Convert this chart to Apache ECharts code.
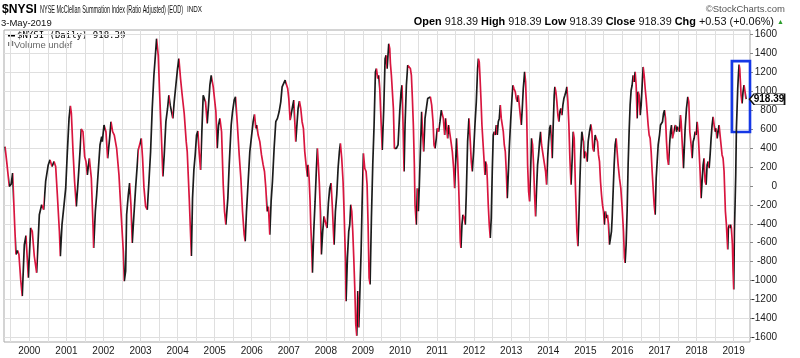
<!DOCTYPE html>
<html><head><meta charset="utf-8">
<script src="https://cdn.jsdelivr.net/npm/echarts@6/dist/echarts.min.js"></script>
<style>html,body{margin:0;padding:0;background:#fff}#c{width:800px;height:358px}</style>
</head><body><div id="c"></div>
<script>
// ---- data (dates as decimal years, values of $NYSI) ----
const dates = [
1999.345,1999.39,1999.46,1999.51,1999.55,1999.605,1999.64,1999.685,1999.72,1999.767,1999.81,1999.866,1999.91,1999.974,
2000.037,2000.08,2000.135,2000.198,2000.27,2000.333,2000.387,2000.44,2000.51,2000.558,2000.612,2000.666,2000.71,2000.755,2000.81,2000.836,2000.88,2000.935,2000.98,
2001.025,2001.07,2001.106,2001.133,2001.178,2001.22,2001.267,2001.32,2001.366,2001.4,2001.447,2001.492,2001.528,2001.564,2001.618,2001.672,2001.717,2001.735,2001.78,2001.816,2001.906,2001.951,2001.969,
2002.014,2002.04,2002.067,2002.112,2002.13,2002.166,2002.202,2002.247,2002.292,2002.355,2002.418,2002.472,2002.535,2002.562,2002.598,2002.625,2002.67,2002.705,2002.741,2002.777,2002.822,2002.867,2002.912,2002.939,2002.975,
2003.02,2003.056,2003.092,2003.137,2003.182,2003.227,2003.272,2003.316,2003.361,2003.388,2003.433,2003.478,2003.514,2003.559,2003.604,2003.64,2003.685,2003.73,2003.765,2003.801,2003.837,2003.873,2003.909,2003.954,2003.999,
2004.035,2004.08,2004.125,2004.179,2004.233,2004.26,2004.314,2004.372,2004.403,2004.439,2004.475,2004.511,2004.547,2004.583,2004.619,2004.654,2004.69,2004.726,2004.753,2004.798,2004.834,2004.87,2004.906,2004.924,2004.96,2004.987,
2005.032,2005.068,2005.104,2005.14,2005.185,2005.23,2005.265,2005.301,2005.355,2005.391,2005.445,2005.481,2005.526,2005.562,2005.607,2005.661,2005.706,2005.751,2005.796,2005.823,2005.858,2005.903,2005.948,2005.993,
2006.038,2006.074,2006.11,2006.137,2006.173,2006.218,2006.263,2006.308,2006.344,2006.38,2006.415,2006.451,2006.487,2006.523,2006.559,2006.604,2006.649,2006.694,2006.739,2006.784,2006.82,2006.865,2006.901,2006.937,2006.97,
2007.0,2007.036,2007.072,2007.108,2007.135,2007.162,2007.188,2007.215,2007.251,2007.287,2007.323,2007.359,2007.395,2007.431,2007.467,2007.503,2007.521,2007.548,2007.575,2007.593,2007.611,2007.638,2007.674,2007.71,2007.746,2007.772,2007.799,2007.826,2007.853,2007.88,2007.916,2007.952,2007.979,
2008.006,2008.033,2008.069,2008.105,2008.141,2008.177,2008.204,2008.222,2008.258,2008.294,2008.33,2008.365,2008.392,2008.428,2008.464,2008.491,2008.527,2008.545,2008.581,2008.617,2008.644,2008.671,2008.698,2008.725,2008.752,2008.779,2008.806,2008.833,2008.86,2008.887,2008.923,2008.95,2008.976,
2009.012,2009.048,2009.084,2009.111,2009.138,2009.165,2009.192,2009.228,2009.264,2009.3,2009.336,2009.363,2009.399,2009.426,2009.453,2009.489,2009.52,2009.561,2009.597,2009.624,2009.651,2009.669,2009.696,2009.723,2009.741,2009.767,2009.794,2009.821,2009.848,2009.875,2009.902,2009.947,2009.992,
2010.028,2010.055,2010.082,2010.109,2010.136,2010.172,2010.208,2010.244,2010.28,2010.307,2010.334,2010.36,2010.387,2010.405,2010.423,2010.441,2010.468,2010.495,2010.522,2010.558,2010.585,2010.612,2010.639,2010.675,2010.711,2010.747,2010.783,2010.819,2010.855,2010.891,2010.918,2010.945,2010.98,
2011.007,2011.043,2011.079,2011.115,2011.142,2011.169,2011.205,2011.232,2011.259,2011.286,2011.313,2011.34,2011.376,2011.412,2011.447,2011.474,2011.501,2011.528,2011.555,2011.582,2011.609,2011.627,2011.645,2011.672,2011.699,2011.735,2011.762,2011.789,2011.825,2011.861,2011.897,2011.924,2011.951,2011.987,
2012.023,2012.059,2012.095,2012.115,2012.139,2012.157,2012.184,2012.211,2012.238,2012.265,2012.292,2012.31,2012.336,2012.354,2012.381,2012.408,2012.435,2012.462,2012.489,2012.516,2012.543,2012.57,2012.597,2012.624,2012.651,2012.678,2012.705,2012.732,2012.759,2012.786,2012.813,2012.84,2012.867,2012.893,2012.92,2012.947,2012.983,
2013.019,2013.046,2013.073,2013.109,2013.136,2013.163,2013.19,2013.217,2013.244,2013.271,2013.298,2013.325,2013.361,2013.388,2013.415,2013.442,2013.469,2013.495,2013.522,2013.549,2013.576,2013.603,2013.63,2013.657,2013.684,2013.711,2013.738,2013.765,2013.792,2013.819,2013.846,2013.873,2013.9,2013.927,2013.954,2013.981,
2014.008,2014.035,2014.062,2014.088,2014.106,2014.133,2014.16,2014.178,2014.205,2014.232,2014.259,2014.286,2014.313,2014.34,2014.367,2014.394,2014.421,2014.448,2014.475,2014.502,2014.529,2014.556,2014.583,2014.614,2014.646,2014.673,2014.7,2014.718,2014.736,2014.754,2014.772,2014.799,2014.826,2014.853,2014.879,2014.906,2014.933,2014.951,2014.969,2014.996,
2015.023,2015.05,2015.077,2015.113,2015.149,2015.176,2015.203,2015.23,2015.266,2015.293,2015.329,2015.356,2015.383,2015.41,2015.437,2015.463,2015.49,2015.517,2015.544,2015.571,2015.598,2015.625,2015.652,2015.679,2015.706,2015.724,2015.751,2015.778,2015.805,2015.832,2015.859,2015.886,2015.922,2015.958,2015.994,
2016.03,2016.056,2016.074,2016.101,2016.128,2016.155,2016.182,2016.209,2016.236,2016.263,2016.29,2016.317,2016.344,2016.371,2016.398,2016.425,2016.452,2016.479,2016.506,2016.533,2016.56,2016.587,2016.614,2016.64,2016.667,2016.694,2016.721,2016.748,2016.775,2016.802,2016.829,2016.856,2016.883,2016.91,2016.937,2016.964,
2017.0,2017.027,2017.054,2017.081,2017.108,2017.135,2017.162,2017.189,2017.216,2017.243,2017.27,2017.297,2017.324,2017.351,2017.378,2017.405,2017.431,2017.458,2017.485,2017.512,2017.539,2017.566,2017.584,2017.611,2017.647,2017.692,2017.728,2017.764,2017.791,2017.818,2017.854,2017.881,2017.908,2017.935,2017.962,2017.989,
2018.016,2018.042,2018.069,2018.096,2018.123,2018.15,2018.177,2018.204,2018.231,2018.258,2018.285,2018.312,2018.339,2018.366,2018.393,2018.42,2018.447,2018.474,2018.501,2018.528,2018.555,2018.582,2018.608,2018.635,2018.662,2018.689,2018.716,2018.743,2018.761,2018.779,2018.806,2018.824,2018.842,2018.86,2018.887,2018.905,2018.923,2018.941,2018.968,2018.986,
2019.004,2019.022,2019.04,2019.058,2019.076,2019.094,2019.112,2019.13,2019.148,2019.166,2019.184,2019.202,2019.229,2019.255,2019.282,2019.309,2019.336
];
const values = [
416,258,-5,20,136,-409,-725,-683,-725,-988,-1164,-620,-525,-971,
-444,-479,-743,-918,-304,-199,-251,48,223,276,206,258,206,-93,-479,-743,-409,-199,-23,
364,715,848,767,364,48,-216,83,364,603,574,311,258,118,293,83,-409,-655,-268,-93,434,522,469,
645,662,574,293,276,504,680,574,539,399,118,-268,-690,-1006,-901,-304,-93,30,-198,-602,-304,-23,223,381,364,
504,293,-12,-216,-251,48,364,820,1172,1312,1558,1382,996,574,100,329,680,820,960,855,873,715,890,1066,1242,
1347,1136,960,767,469,364,-128,-740,-128,170,329,539,581,346,170,574,960,978,890,662,855,1066,1171,1178,1049,1031,
785,399,645,715,574,13,-268,-409,-128,223,645,785,908,943,680,329,83,-268,-514,-585,-268,48,364,522,
680,757,610,645,539,469,329,223,153,-23,-268,-216,-514,-163,48,399,680,715,785,890,1049,1066,1119,1136,1031,
925,697,680,855,908,680,469,486,820,897,820,680,610,364,223,100,223,83,-163,-409,-585,-918,-479,-163,188,399,223,13,-268,-725,-479,-321,-339,
-409,-444,-181,-23,30,-233,-479,-620,-268,-93,188,364,451,293,48,-268,-760,-1218,-760,-479,-409,-198,-268,-479,-760,-1076,-1462,-1585,-1111,-1497,-1040,-690,-198,
346,188,153,13,-409,-971,-1041,-339,223,645,1207,1242,1136,1171,1031,680,381,820,1347,1383,1242,1347,1505,1453,1295,1171,1154,820,399,381,399,434,785,
996,1066,645,153,645,1066,1277,1259,1242,1171,925,645,223,-198,-304,-409,-23,-268,13,469,785,539,364,715,820,925,943,943,855,680,434,399,504,
610,574,680,802,820,715,539,715,697,504,645,627,469,364,188,-23,258,504,293,13,-339,-585,-655,-409,-304,-339,-409,-93,469,715,469,258,153,364,
645,890,1242,1347,1312,1172,925,645,469,293,118,258,223,83,-198,-409,-550,-339,153,539,574,539,645,539,680,715,855,715,645,574,434,364,153,-128,118,399,680,
925,1066,1031,996,925,890,960,855,750,645,820,1031,1207,1101,785,223,-58,-163,153,504,434,223,-93,-321,-23,223,329,469,574,434,364,293,223,153,13,293,
469,610,645,469,293,645,960,1049,996,890,750,680,785,820,750,855,925,960,996,1049,890,645,293,13,293,574,504,223,-58,-268,-479,-637,-339,48,364,574,592,469,293,364,
329,258,469,574,652,574,399,364,539,557,469,329,258,48,-93,-198,-268,-409,-268,-339,-304,-409,-620,-550,-479,-339,-58,223,434,504,364,223,83,-23,-233,
-479,-760,-813,-620,-268,223,574,855,1013,1066,1171,1101,1207,1066,715,996,960,750,855,1066,1259,1171,1031,925,785,645,539,504,364,153,-23,-198,-304,83,258,434,
539,645,662,680,767,802,715,469,293,223,434,574,645,504,486,610,645,574,627,645,574,750,680,469,188,610,820,943,890,574,434,293,469,504,574,539,
680,574,364,153,-128,48,223,293,48,13,223,258,188,329,504,645,732,645,574,610,504,574,645,539,434,329,293,153,-58,-268,-409,-550,-672,-444,-409,-444,-409,-444,-620,-901,
-1095,-479,-198,118,610,820,1031,1171,1284,1242,1101,960,873,996,1066,996,918.39
];
const yTickValues = [-1600,-1400,-1200,-1000,-800,-600,-400,-200,0,200,400,600,800,1000,1200,1400,1600];
const yearLabels = [2000,2001,2002,2003,2004,2005,2006,2007,2008,2009,2010,2011,2012,2013,2014,2015,2016,2017,2018,2019];
const xRange = [1999.317, 2019.443];
const yRange = [-1650, 1650];
const boxDates = [2018.953, 2019.443];
const boxValues = [571, 1321];
const lastClose = '918.39';

// ---- helpers ----
function decToTime(d) {
  const y = Math.floor(d);
  const s = Date.UTC(y, 0, 1), e = Date.UTC(y + 1, 0, 1);
  return s + (d - y) * (e - s);
}
const UP = '#1c1c1c', DOWN = '#d8163f';
const seriesData = dates.map((d, i) => [decToTime(d), values[i]]);
const pieces = [];
for (let i = 0; i < seriesData.length - 1; i++) {
  const color = values[i + 1] >= values[i] ? UP : DOWN;
  const a = seriesData[i][0], b = seriesData[i + 1][0];
  const last = pieces[pieces.length - 1];
  if (last && last.color === color) { last.lt = b; }
  else pieces.push({ gte: a, lt: b, color: color });
}
pieces[pieces.length - 1].lte = pieces[pieces.length - 1].lt;
delete pieces[pieces.length - 1].lt;

const yearTicks = yearLabels.map(y => Date.UTC(y, 0, 1));
const halfTicks = [];
for (let y = 1999; y <= 2019; y++) {
  [Date.UTC(y, 0, 1), Date.UTC(y, 6, 1)].forEach(t => {
    if (t >= decToTime(xRange[0]) && t <= decToTime(xRange[1])) halfTicks.push(t);
  });
}

const chart = echarts.init(document.getElementById('c'), null, { renderer: 'canvas' });
const FONT = 'Liberation Sans, Arial, sans-serif';
chart.setOption({
  animation: false,
  backgroundColor: '#fff',
  grid: { left: 4, right: 50, top: 30, bottom: 16, show: true, borderColor: '#a9a9a9', borderWidth: 1 },
  xAxis: {
    type: 'value',
    min: decToTime(xRange[0]), max: decToTime(xRange[1]),
    axisLine: { show: false },
    axisTick: { show: false, customValues: halfTicks },
    splitLine: { show: true, lineStyle: { color: '#dfdfdf', width: 1 } },
    axisLabel: {
      customValues: yearTicks, margin: 4, color: '#1a1a1a', fontSize: 10, fontFamily: FONT,
      formatter: v => String(new Date(v).getUTCFullYear())
    }
  },
  yAxis: {
    type: 'value', position: 'right',
    min: yRange[0], max: yRange[1],
    axisLine: { show: false },
    axisTick: { show: true, length: 3, customValues: yTickValues, lineStyle: { color: '#888' } },
    splitLine: { show: true, lineStyle: { color: '#dfdfdf', width: 1 } },
    axisLabel: {
      customValues: yTickValues, align: 'right', margin: 27, color: '#1a1a1a', fontSize: 10, fontFamily: FONT,
      formatter: v => String(v)
    }
  },
  visualMap: {
    show: false, type: 'piecewise', dimension: 0, seriesIndex: 0,
    pieces: pieces, outOfRange: { color: UP }
  },
  series: [{
    type: 'line', data: seriesData, showSymbol: false, symbol: 'none',
    lineStyle: { width: 1.7 }, z: 3,
    markArea: {
      silent: true,
      itemStyle: { color: 'rgba(0,0,0,0)', borderColor: '#1538e6', borderWidth: 2.6 },
      data: [[{ coord: [decToTime(boxDates[0]), boxValues[1]] }, { coord: [decToTime(boxDates[1]), boxValues[0]] }]]
    },
    markPoint: {
      silent: true, animation: false,
      symbol: 'path://M0,6 L5,0 L38,0 L38,12 L5,12 Z', symbolSize: [35, 11], symbolKeepAspect: false,
      symbolOffset: [21, 0],
      itemStyle: { color: '#fff', borderColor: '#111', borderWidth: 1 },
      label: { show: true, position: 'inside', offset: [2, 0], formatter: lastClose, color: '#000', fontWeight: 'bold', fontSize: 10, fontFamily: FONT },
      data: [{ coord: seriesData[seriesData.length - 1] }]
    }
  }],
  graphic: [
    { type: 'text', x: 2, y: 3, scaleX: 0.93, style: { text: '$NYSI', font: 'bold 13px ' + FONT, fill: '#000' } },
    { type: 'text', x: 40, y: 4, scaleX: 0.5, style: { text: 'NYSE McClellan Summation Index (Ratio Adjusted) (EOD)', font: '11px ' + FONT, fill: '#111' } },
    { type: 'text', x: 187, y: 5, scaleX: 0.7, style: { text: 'INDX', font: '9px ' + FONT, fill: '#111' } },
    { type: 'text', x: 1, y: 18, style: { text: '3-May-2019', font: '9.5px ' + FONT, fill: '#111' } },
    { type: 'text', x: 785, y: 4, style: { text: '\u00A9StockCharts.com', font: '9.5px ' + FONT, fill: '#555', align: 'right' } },
    { type: 'text', x: 774, y: 16, scaleX: 0.99, style: {
        align: 'right',
        text: '{b|Open} 918.39 {b|High} 918.39 {b|Low} 918.39 {b|Close} 918.39 {b|Chg} +0.53 (+0.06%)',
        font: '11px ' + FONT, fill: '#111',
        rich: { b: { fontWeight: 'bold', fontSize: 11, fontFamily: FONT, fill: '#000' } }
    } },
    { type: 'text', x: 777, y: 19, style: { text: '\u25B2', font: '7px ' + FONT, fill: '#2a9d2a' } },
    { type: 'rect', shape: { x: 8, y: 34.5, width: 7, height: 2 }, style: { fill: '#000' } },
    { type: 'text', x: 17, y: 31, style: { text: '$NYSI (Daily) 918.39', font: '9px DejaVu Sans Mono, monospace', fill: '#000' } },
    { type: 'rect', shape: { x: 8, y: 42, width: 1.2, height: 4 }, style: { fill: '#777' } },
    { type: 'rect', shape: { x: 10, y: 40, width: 1.2, height: 6 }, style: { fill: '#777' } },
    { type: 'rect', shape: { x: 12, y: 41, width: 1.2, height: 5 }, style: { fill: '#777' } },
    { type: 'text', x: 14, y: 40, style: { text: 'Volume undef', font: '9.5px ' + FONT, fill: '#666' } }
  ]
});
</script>
</body></html>
